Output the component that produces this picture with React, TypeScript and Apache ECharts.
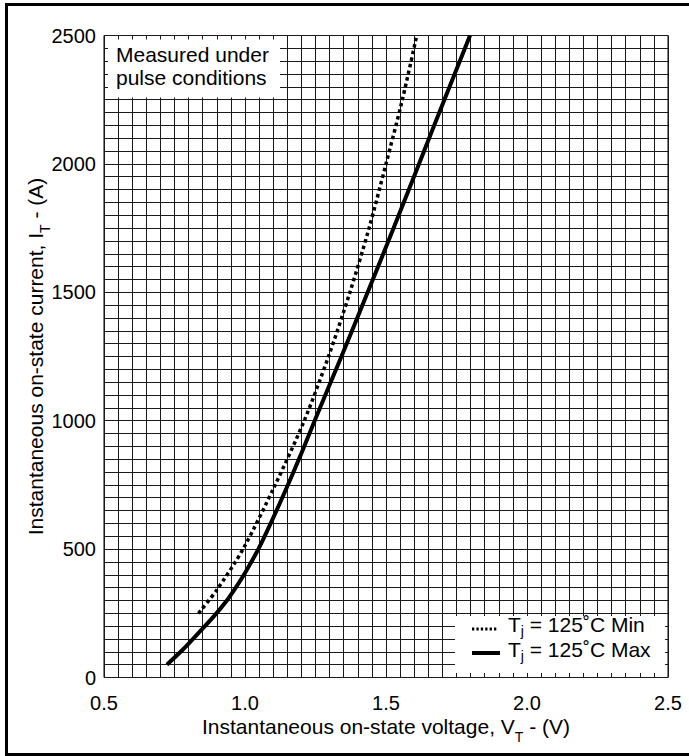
import React, { useEffect, useRef } from "react";
import * as echarts from "echarts";

// Axis ranges and grid spacing
const voltageMin = 0.5;
const voltageMax = 2.5;
const voltageMinor = 0.05;
const voltageMajor = 0.5;
const currentMin = 0;
const currentMax = 2500;
const currentMinor = 50;
const currentMajor = 500;

// Tj = 125 °C, minimum on-state characteristic (dotted)
const minVoltage = [0.835, 0.9, 0.993, 1.107, 1.21, 1.296, 1.372, 1.44, 1.5, 1.558, 1.609];
const minCurrent = [250, 341, 500, 750, 1000, 1250, 1500, 1750, 2000, 2250, 2500];

// Tj = 125 °C, maximum on-state characteristic (solid)
const maxVoltage = [0.723, 0.779, 0.834, 0.887, 0.937, 0.969, 1.0, 1.047, 1.091, 1.147, 1.195, 1.247, 1.342, 1.435, 1.527, 1.617, 1.707, 1.798];
const maxCurrent = [50, 108, 172, 235, 302, 353, 407, 499, 600, 737, 860, 1000, 1250, 1500, 1750, 2000, 2250, 2500];

const seriesNames = ["Tj = 125˚C Min", "Tj = 125˚C Max"];
const legendLabels = ["{n|T}{j|j}{n| = 125˚C Min}", "{n|T}{j|j}{n| = 125˚C Max}"];
const noteLines = ["Measured under", "pulse conditions"];
const xTitle = "{n|Instantaneous on-state voltage, V}{s|T}{n| - (V)}";
const yTitle = "{n|Instantaneous on-state current, I}{s|T}{n| - (A)}";

const FONT = "'Liberation Sans', Arial, Helvetica, sans-serif";
const INK = "#000";
const TEXT_SIZE = 21;

const richSub = (pad: number) => ({
  n: { fontSize: TEXT_SIZE, lineHeight: 20, fontFamily: FONT, color: INK, fill: INK, padding: [0, 0, pad, 0] },
  s: { fontSize: 14, lineHeight: 20, fontFamily: FONT, color: INK, fill: INK, padding: [pad, 0, 0, 0] },
  j: { fontSize: 14, lineHeight: 20, fontFamily: FONT, color: INK, fill: INK, padding: [pad, 0, 0, 0] },
});

const isMultiple = (v: number, step: number) => Math.abs(v / step - Math.round(v / step)) < 1e-6;

export default function App() {
  const ref = useRef<HTMLDivElement>(null);

  useEffect(() => {
    if (!ref.current) return;
    const chart = echarts.init(ref.current, undefined, { renderer: "svg" });

    const gridLine = { show: true, lineStyle: { color: "#1a1a1a", width: 1 } };

    chart.setOption({
      animation: false,
      backgroundColor: "#fff",
      textStyle: { fontFamily: FONT },
      grid: {
        left: 104,
        top: 35.5,
        width: 564,
        height: 642,
        show: true,
        borderColor: INK,
        borderWidth: 1,
        backgroundColor: "transparent",
      },
      xAxis: {
        type: "value",
        min: voltageMin,
        max: voltageMax,
        interval: voltageMinor,
        name: xTitle,
        nameLocation: "middle",
        nameGap: 44,
        nameMoveOverlap: false,
        nameTextStyle: { rich: richSub(10) },
        axisLine: { show: false },
        axisTick: { show: false },
        axisLabel: {
          margin: 15,
          fontSize: 20,
          lineHeight: 20,
          color: INK,
          fontFamily: FONT,
          formatter: (v: number) => (isMultiple(v, voltageMajor) ? v.toFixed(1) : ""),
        },
        splitLine: gridLine,
      },
      yAxis: {
        type: "value",
        min: currentMin,
        max: currentMax,
        interval: currentMinor,
        name: yTitle,
        nameLocation: "middle",
        nameRotate: 90,
        nameGap: 54,
        nameMoveOverlap: false,
        nameTextStyle: { rich: richSub(10) },
        axisLine: { show: false },
        axisTick: { show: false },
        axisLabel: {
          margin: 8,
          fontSize: 20,
          color: INK,
          fontFamily: FONT,
          formatter: (v: number) => (isMultiple(v, currentMajor) ? String(v) : ""),
        },
        splitLine: gridLine,
      },
      series: [
        {
          name: seriesNames[0],
          type: "line",
          data: minVoltage.map((v, i) => [v, minCurrent[i]]),
          symbol: "none",
          smooth: 0.3,
          lineStyle: { color: INK, width: 3.5, type: [3.5, 3.2], cap: "butt" },
          z: 5,
        },
        {
          name: seriesNames[1],
          type: "line",
          data: maxVoltage.map((v, i) => [v, maxCurrent[i]]),
          symbol: "none",
          smooth: 0.3,
          lineStyle: { color: INK, width: 4 },
          z: 5,
        },
      ],
      graphic: [
        // note box
        {
          type: "rect",
          z: 100,
          silent: true,
          shape: { x: 108, y: 39.5, width: 172, height: 58 },
          style: { fill: "#fff" },
        },
        {
          type: "text",
          z: 101,
          silent: true,
          x: 116,
          y: 42.5,
          style: {
            text: noteLines.join("\n"),
            fontSize: TEXT_SIZE,
            fontFamily: FONT,
            lineHeight: 23.5,
            fill: INK,
            align: "left",
            verticalAlign: "top",
            textAlign: "left",
            textVerticalAlign: "top",
          },
        },
        // legend box
        {
          type: "rect",
          z: 100,
          silent: true,
          shape: { x: 455, y: 616, width: 210, height: 57 },
          style: { fill: "#fff" },
        },
        {
          type: "line",
          z: 101,
          silent: true,
          shape: { x1: 472, y1: 629, x2: 498, y2: 629 },
          style: { stroke: INK, lineWidth: 3, lineDash: [2.3, 2.1] },
        },
        {
          type: "line",
          z: 101,
          silent: true,
          shape: { x1: 472, y1: 653, x2: 500, y2: 653 },
          style: { stroke: INK, lineWidth: 4 },
        },
        ...legendLabels.map((label, i) => ({
          type: "text",
          z: 101,
          silent: true,
          x: 508,
          y: 618 + i * 25,
          style: {
            text: label,
            rich: richSub(6.5),
            fill: INK,
            align: "left",
            verticalAlign: "top",
            textAlign: "left",
            textVerticalAlign: "top",
          },
        })),
        // outer frame
        {
          type: "rect",
          z: 120,
          silent: true,
          shape: { x: 6.5, y: 4.5, width: 720, height: 750 },
          style: { fill: "none", stroke: INK, lineWidth: 3 },
        },
      ],
    });

    return () => chart.dispose();
  }, []);

  return (
    <div
      ref={ref}
      style={{ position: "fixed", left: 0, top: 0, width: 689, height: 756, background: "#fff" }}
    />
  );
}
